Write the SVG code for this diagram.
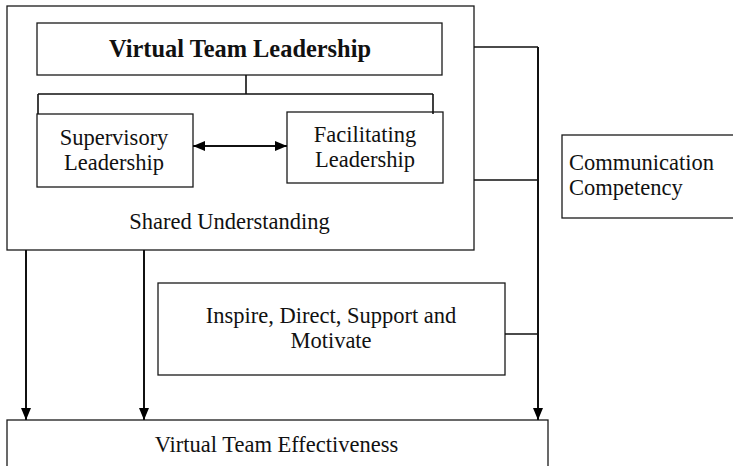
<svg xmlns="http://www.w3.org/2000/svg" width="733" height="466" viewBox="0 0 733 466">
  <style>
    .box { fill: #ffffff; stroke: #1a1a1a; stroke-width: 1.3; }
    .lbl { font-family: "Liberation Serif", "Times New Roman", serif; font-size: 22.5px; fill: #111111; }
    .mid { text-anchor: middle; }
    .title { font-weight: bold; font-size: 24.4px; }
    .wire { fill: none; stroke: #111111; stroke-width: 1.6; }
    .arrow { fill: none; stroke: #111111; stroke-width: 2; }
  </style>
  <defs>
    <marker id="head" viewBox="0 0 12 10" refX="12" refY="5" markerWidth="12" markerHeight="10" markerUnits="userSpaceOnUse" orient="auto-start-reverse">
      <path d="M0,0 L12,5 L0,10 Z" fill="#000000"/>
    </marker>
  </defs>

  <!-- outer frame: leadership block -->
  <g id="shared-understanding">
    <rect class="box" x="7" y="6" width="467" height="244"/>
    <text class="lbl mid" x="229.5" y="229" font-size="23.2">Shared Understanding</text>
  </g>

  <g id="virtual-team-leadership">
    <rect class="box" x="37" y="23" width="405" height="52"/>
    <text class="lbl mid title" x="240" y="57">Virtual Team Leadership</text>
  </g>

  <g id="supervisory-leadership">
    <rect class="box" x="37" y="114" width="156" height="73"/>
    <text class="lbl mid" x="114" y="145">Supervisory</text>
    <text class="lbl mid" x="114" y="170">Leadership</text>
  </g>

  <g id="facilitating-leadership">
    <rect class="box" x="287" y="112" width="156" height="71"/>
    <text class="lbl mid" x="365" y="142">Facilitating</text>
    <text class="lbl mid" x="365" y="167">Leadership</text>
  </g>

  <g id="communication-competency">
    <rect class="box" x="562" y="135" width="190" height="83"/>
    <text class="lbl" x="569" y="170" font-size="23.4">Communication</text>
    <text class="lbl" x="569" y="195" font-size="24.4">Competency</text>
  </g>

  <g id="inspire-direct-support-motivate">
    <rect class="box" x="158" y="283" width="347" height="92"/>
    <text class="lbl mid" x="331" y="323" font-size="23">Inspire, Direct, Support and</text>
    <text class="lbl mid" x="331" y="348" font-size="23">Motivate</text>
  </g>

  <g id="virtual-team-effectiveness">
    <rect class="box" x="7" y="420" width="541" height="70"/>
    <text class="lbl mid" x="276.5" y="452" font-size="22">Virtual Team Effectiveness</text>
  </g>

  <g id="connectors">
    <!-- leadership tree -->
    <path class="wire" d="M246,75 V94 M38,94 H433 M38,94 V114 M433,94 V114"/>
    <!-- supervisory <-> facilitating -->
    <line class="arrow" x1="193" y1="146" x2="287" y2="146" marker-start="url(#head)" marker-end="url(#head)"/>
    <!-- right-hand bus to effectiveness -->
    <path class="wire" d="M474,47 H538 M474,180 H538 M505,334 H538"/>
    <line class="arrow" x1="538" y1="47" x2="538" y2="420" marker-end="url(#head)"/>
    <!-- direct links from the leadership block -->
    <line class="arrow" x1="26" y1="250" x2="26" y2="420" marker-end="url(#head)"/>
    <line class="arrow" x1="144" y1="250" x2="144" y2="420" marker-end="url(#head)"/>
  </g>
</svg>
